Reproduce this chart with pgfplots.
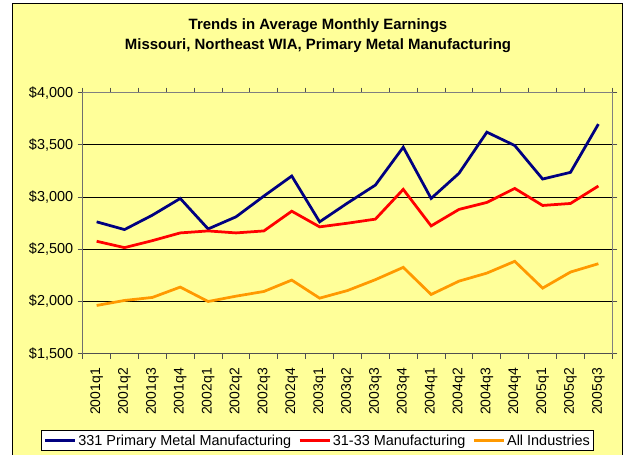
\documentclass[border=0pt]{standalone}
\usepackage{fontspec}
\setmainfont{Liberation Sans}
\usepackage{pgfplots}
\pgfplotsset{compat=1.18}
\definecolor{bgyellow}{HTML}{FFFF99}
\definecolor{xlnavy}{HTML}{000080}
\definecolor{xlred}{HTML}{FF0000}
\definecolor{xlorange}{HTML}{FF9900}
\definecolor{axgray}{HTML}{808080}
\definecolor{axdark}{HTML}{505050}
\begin{document}
\begin{tikzpicture}
\useasboundingbox (-82.7bp,-101.3bp) rectangle (540.3bp,353.7bp);
\fill[white] (-82.7bp,-101.3bp) rectangle (540.3bp,353.7bp);
\draw[black, line width=1bp, fill=bgyellow] (-69.7bp,-110bp) rectangle (539.3bp,350.5bp);
\begin{axis}[
  at={(0,0)}, anchor=south west,
  scale only axis, width=529.6bp, height=261bp,
  xmin=0.5, xmax=19.5, ymin=1500, ymax=4000,
  axis line style={axgray, line width=1bp},
  tick align=outside,
  major tick length=5bp,
  minor tick length=5bp,
  xtick={1,2,...,19},
  xticklabels={2001q1,2001q2,2001q3,2001q4,2002q1,2002q2,2002q3,2002q4,2003q1,2003q2,2003q3,2003q4,2004q1,2004q2,2004q3,2004q4,2005q1,2005q2,2005q3},
  major x tick style={draw=none},
  minor xtick={0.5,1.5,...,19.5},
  minor x tick style={draw=axdark, line width=1bp},
  ytick={1500,2000,...,4000},
  yticklabels={{\$1,500},{\$2,000},{\$2,500},{\$3,000},{\$3,500},{\$4,000}},
  major y tick style={draw=axdark, line width=1bp},
  extra y ticks={2000,2500,3000,3500},
  extra y tick labels={},
  extra y tick style={grid=major, major grid style={black, line width=1bp}, major tick length=0pt},
  yticklabel style={font=\fontsize{14.5}{16}\selectfont, xshift=-1bp},
  xticklabel style={font=\fontsize{14}{15}\selectfont, rotate=90, anchor=east},
  xticklabel shift=6bp,
  legend style={at={(0.4438,-0.333)}, anchor=center, draw=black, line width=1bp, fill=white,
    font=\fontsize{14.5}{17}\selectfont, inner xsep=2bp, inner ysep=2bp,
    /tikz/every even column/.append style={column sep=5bp}},
  legend columns=3,
  legend cell align=left,
  legend image code/.code={\draw[#1] (0bp,0bp) -- (30bp,0bp);},
]
\addplot[xlnavy, line width=2.75bp] coordinates {
(1,2763) (2,2689) (3,2827) (4,2987) (5,2695) (6,2811) (7,3010) (8,3202) (9,2763) (10,2943)
(11,3115) (12,3478) (13,2987) (14,3228) (15,3622) (16,3494) (17,3173) (18,3237) (19,3699)};
\addlegendentry{331 Primary Metal Manufacturing}
\addplot[xlred, line width=2.75bp] coordinates {
(1,2577) (2,2516) (3,2583) (4,2657) (5,2676) (6,2657) (7,2676) (8,2865) (9,2715) (10,2750)
(11,2789) (12,3074) (13,2724) (14,2882) (15,2949) (16,3083) (17,2920) (18,2939) (19,3106)};
\addlegendentry{31-33 Manufacturing}
\addplot[xlorange, line width=2.75bp] coordinates {
(1,1962) (2,2010) (3,2039) (4,2138) (5,2000) (6,2051) (7,2096) (8,2205) (9,2032) (10,2105)
(11,2209) (12,2327) (13,2067) (14,2195) (15,2272) (16,2385) (17,2128) (18,2282) (19,2362)};
\addlegendentry{All Industries}
\draw[axdark, line width=1.5bp] (rel axis cs:0,1) -- (rel axis cs:0,0) -- (rel axis cs:1,0);
\end{axis}
\node[align=center, font=\bfseries\fontsize{15}{20}\selectfont] at (235.3bp,317.7bp)
  {Trends in Average Monthly Earnings\\Missouri, Northeast WIA, Primary Metal Manufacturing};
\end{tikzpicture}
\end{document}
